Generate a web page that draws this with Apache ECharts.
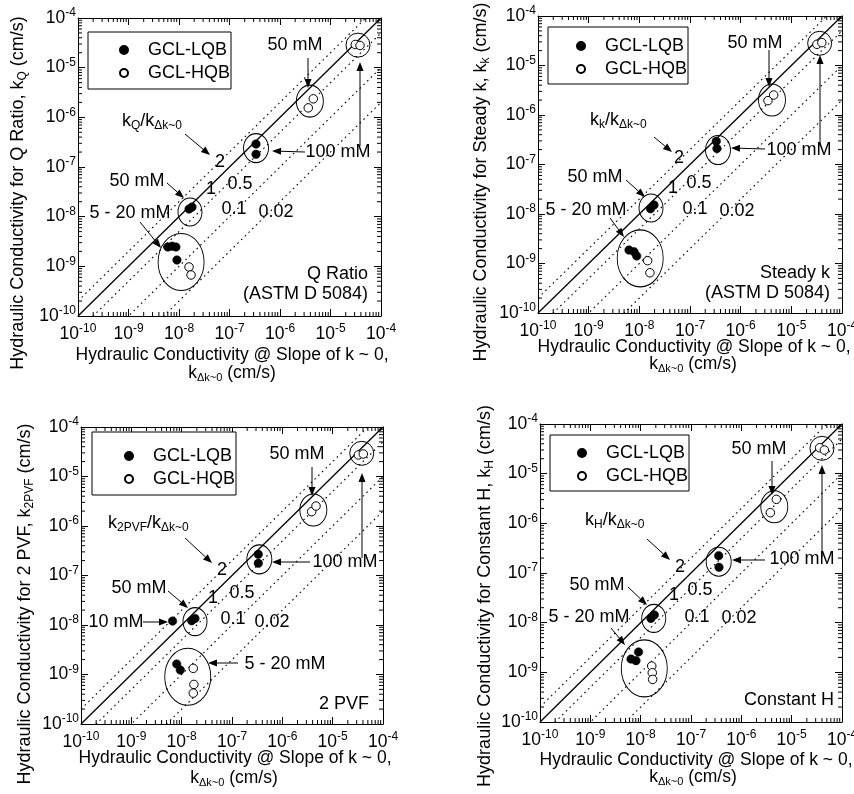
<!DOCTYPE html>
<html><head><meta charset="utf-8">
<script src="https://cdn.jsdelivr.net/npm/echarts@6/dist/echarts.min.js"></script>
<style>html,body{margin:0;padding:0;background:#fff}#c{width:854px;height:794px}</style>
</head><body><div id="c"></div>
<script>
// ---------- data (cm/s) ----------
const ratios = [2, 1, 0.5, 0.1, 0.02];
const axisMin = 1e-10, axisMax = 1e-4;

// Panel A: Q Ratio
const qRatioLQB = [[6.0e-9,2.45e-9],[7.3e-9,2.55e-9],[8.7e-9,2.45e-9],[9.1e-9,1.34e-9],[1.58e-8,1.42e-8],[1.81e-8,1.56e-8],[3.35e-7,2.9e-7],[3.35e-7,1.8e-7]];
const qRatioHQB = [[1.58e-8,9.7e-10],[1.73e-8,6.7e-10],[3.63e-6,1.55e-6],[4.57e-6,2.36e-6],[3.1e-5,2.93e-5],[3.84e-5,2.8e-5]];
// Panel B: Steady k
const steadyLQB = [[6.25e-9,1.87e-9],[7.85e-9,1.73e-9],[8.87e-9,1.42e-9],[1.66e-8,1.28e-8],[1.95e-8,1.52e-8],[3.3e-7,2.95e-7],[3.4e-7,2.1e-7]];
const steadyHQB = [[1.46e-8,1.14e-9],[1.62e-8,6.5e-10],[3.46e-6,1.95e-6],[4.48e-6,2.53e-6],[3.2e-5,2.68e-5],[4.0e-5,2.9e-5]];
// Panel C: 2 PVF
const pvfLQB = [[6.6e-9,1.2e-8],[7.97e-9,1.63e-9],[9.4e-9,1.23e-9],[1.58e-8,1.22e-8],[1.84e-8,1.36e-8],[3.33e-7,2.68e-7],[3.33e-7,1.76e-7]];
const pvfHQB = [[1.7e-8,1.33e-9],[1.75e-8,6.3e-10],[1.7e-8,4.2e-10],[3.83e-6,1.95e-6],[4.67e-6,2.53e-6],[3.24e-5,2.72e-5],[4.06e-5,2.85e-5]];
// Panel D: Constant H
const constHLQB = [[6.43e-9,1.85e-9],[8.08e-9,1.72e-9],[9.06e-9,2.57e-9],[1.6e-8,1.22e-8],[1.87e-8,1.43e-8],[3.55e-7,2.23e-7],[3.6e-7,1.3e-7]];
const constHHQB = [[1.66e-8,1.34e-9],[1.7e-8,9.8e-10],[1.73e-8,7.2e-10],[3.77e-6,1.64e-6],[4.96e-6,3.04e-6],[3.6e-5,3.33e-5],[4.46e-5,2.99e-5]];

// group ring centres (data coords)
const ringCentersA = [[3.5e-5,2.84e-5],[3.9e-6,2.12e-6],[3.35e-7,2.4e-7],[1.65e-8,1.24e-8],[1.1e-8,1.22e-9]];
const ringCentersB = [[3.62e-5,2.81e-5],[4.15e-6,2.01e-6],[3.57e-7,1.96e-7],[1.7e-8,1.32e-8],[1.04e-8,1.27e-9]];
const ringCentersC = [[3.78e-5,2.94e-5],[4.13e-6,2.1e-6],[3.49e-7,2.12e-7],[1.84e-8,1.17e-8],[1.32e-8,9.0e-10]];
const ringCentersD = [[4.0e-5,3.24e-5],[4.52e-6,2.16e-6],[3.55e-7,1.69e-7],[1.82e-8,1.22e-8],[1.18e-8,1.2e-9]];

// ---------- layout / styling ----------
const FONT = '"Liberation Sans", Arial, Helvetica, sans-serif';
const ringSizes = [[24,24],[27,32],[25,29],[24,28],[46,57]];

const panels = [
 {grid:{left:78,top:18,width:303,height:298}, lqb:qRatioLQB, hqb:qRatioHQB, rings:ringCentersA,
  legend:{left:88,top:32,pad:[9,1,7,31]},
  yName:[18,193,'Hydraulic Conductivity for Q Ratio, k{sub|Q} (cm/s)'],
  xName1:[232,355], xName2:[232,373],
  texts:[['50 mM',295,45],['100 mM',338,152],['k{sub|Q}/k{sub|Δk~0}',122,121,'left'],['2',220,162],['1',211,189],['0.5',240,184],['0.1',234,209],['0.02',276,212],['50 mM',137,181],['5 - 20 mM',130,213],['Q Ratio',368,274,'right'],['(ASTM D 5084)',368,294,'right']],
  arrows:[[308,58,308,88],[360,146,360,62],[305,152,272,151],[185,134,210,155],[167,183,184,198],[140,222,161,248]]},
 {grid:{left:538,top:16,width:304,height:297}, lqb:steadyLQB, hqb:steadyHQB, rings:ringCentersB,
  legend:{left:548,top:27,pad:[10,1,6,28]},
  yName:[481,182,'Hydraulic Conductivity for Steady k, k{sub|k} (cm/s)'],
  xName1:[694,347], xName2:[693,364],
  texts:[['50 mM',755,43],['100 mM',799,150],['k{sub|k}/k{sub|Δk~0}',590,120,'left'],['2',679,158],['1',673,188],['0.5',699,183],['0.1',695,209],['0.02',737,211],['50 mM',595,177],['5 - 20 mM',586,210],['Steady k',830,273,'right'],['(ASTM D 5084)',830,293,'right']],
  arrows:[[769,50,769,87],[820,146,820,55],[765,149,731,148],[654,137,672,152],[626,180,645,197],[610,218,624,237]]},
 {grid:{left:81,top:427,width:302,height:297}, lqb:pvfLQB, hqb:pvfHQB, rings:ringCentersC,
  legend:{left:92,top:432,pad:[15,1,7,32]},
  yName:[25,604,'Hydraulic Conductivity for 2 PVF, k{sub|2PVF} (cm/s)'],
  xName1:[235,758], xName2:[234,778],
  texts:[['50 mM',297,454],['100 mM',345,562],['k{sub|2PVF}/k{sub|Δk~0}',108,523,'left'],['2',222,570],['1',213,598],['0.5',242,593],['0.1',233,619],['0.02',272,622],['50 mM',139,588],['10 mM',116,622],['5 - 20 mM',285,664],['2 PVF',369,704,'right']],
  arrows:[[312,467,312,496],[362,558,362,473],[310,562,272,562],[185,538,212,563],[168,591,188,608],[143,622,168,622],[238,663,208,663]]},
 {grid:{left:540,top:424,width:302,height:298}, lqb:constHLQB, hqb:constHHQB, rings:ringCentersD,
  legend:{left:550,top:435,pad:[9,1,6,27]},
  yName:[485,596,'Hydraulic Conductivity for Constant H, k{sub|H} (cm/s)'],
  xName1:[696,760], xName2:[693,777],
  texts:[['50 mM',759,449],['100 mM',802,559],['k{sub|H}/k{sub|Δk~0}',585,520,'left'],['2',680,567],['1',674,595],['0.5',700,590],['0.1',697,617],['0.02',739,618],['50 mM',597,585],['5 - 20 mM',589,617],['Constant H',834,700,'right']],
  arrows:[[772,461,772,495],[822,557,822,465],[765,560,732,560],[647,539,670,560],[628,587,647,605],[611,628,625,645]]}
];

const minorTickVals = [];
for (let e = -10; e < -4; e++) for (let m = 2; m <= 9; m++) minorTickVals.push(m * Math.pow(10, e));

const labelRich = {
  b:{fontSize:17.5, fontFamily:FONT, color:'#000'},
  s:{fontSize:12, fontFamily:FONT, color:'#000', padding:[0,0,10,0]}
};
function expFmt(v){ return '{b|10}{s|' + Math.round(Math.log10(v)) + '}'; }

function makeAxis(i, pos, isX){
  const shown = (pos === 'bottom' || pos === 'left');
  return {type:'log', logBase:10, min:axisMin, max:axisMax, gridIndex:i, position:pos, splitNumber:6,
    axisLine:{show:true, onZero:false, lineStyle:{color:'#000', width:1}},
    axisTick:{show:true, inside:true, length:7, lineStyle:{color:'#000', width:1}},
    axisLabel:{show:shown, margin: isX ? 7 : 2, fontSize:17.5, fontFamily:FONT, color:'#000', formatter:expFmt, rich:labelRich, hideOverlap:false},
    splitLine:{show:false}, minorTick:{show:false}, minorSplitLine:{show:false}};
}

function txt(x, y, text, align, size, rot){
  const fs = size || 18;
  return {type:'text', x:x, y:y, rotation: rot || 0, silent:true, z:100,
    style:{text:text, fontSize:fs, fontFamily:FONT, fill:'#000',
      align:align||'center', textAlign:align||'center', verticalAlign:'middle', textVerticalAlign:'middle',
      rich:{sub:{fontSize:Math.round(fs*0.65), fontFamily:FONT, fill:'#000', padding:[10,0,0,0]}}}};
}
function arrow(x1,y1,x2,y2){
  const dx=x2-x1, dy=y2-y1, L=Math.hypot(dx,dy), ux=dx/L, uy=dy/L;
  const hl=9, hw=3.5, bx=x2-ux*hl, by=y2-uy*hl;
  return [
    {type:'line', silent:true, z:100, shape:{x1:x1,y1:y1,x2:bx,y2:by}, style:{stroke:'#000', lineWidth:1}},
    {type:'polygon', silent:true, z:100, shape:{points:[[x2,y2],[bx-uy*hw,by+ux*hw],[bx+uy*hw,by-ux*hw]]}, style:{fill:'#000'}}
  ];
}

const grids=[], xAxes=[], yAxes=[], series=[], legends=[], graphics=[];
panels.forEach((p, i) => {
  grids.push(Object.assign({containLabel:false, outerBoundsMode:'none'}, p.grid));
  xAxes.push(makeAxis(i,'bottom',true), makeAxis(i,'top',true));
  yAxes.push(makeAxis(i,'left',false), makeAxis(i,'right',false));
  const xi = 2*i, yi = 2*i;
  ratios.forEach(r => {
    series.push({type:'line', xAxisIndex:xi, yAxisIndex:yi, silent:true, symbol:'none', clip:true, z:1,
      data:[[axisMin, r*axisMin],[axisMax, r*axisMax]],
      lineStyle:{color:'#000', width: r===1 ? 1.3 : 1.1, type: r===1 ? 'solid' : [1.6,3.6]}});
  });
  series.push({type:'custom', xAxisIndex:xi, yAxisIndex:yi, silent:true, z:2,
    data: minorTickVals.map(v => [v, v]),
    renderItem: function(params, api){
      const v = api.value(0);
      const b = api.coord([v, axisMin]), t = api.coord([v, axisMax]);
      const l = api.coord([axisMin, v]), r = api.coord([axisMax, v]);
      const L = 4, st = {stroke:'#000', lineWidth:1};
      return {type:'group', children:[
        {type:'line', shape:{x1:b[0],y1:b[1],x2:b[0],y2:b[1]-L}, style:st},
        {type:'line', shape:{x1:t[0],y1:t[1],x2:t[0],y2:t[1]+L}, style:st},
        {type:'line', shape:{x1:l[0],y1:l[1],x2:l[0]+L,y2:l[1]}, style:st},
        {type:'line', shape:{x1:r[0],y1:r[1],x2:r[0]-L,y2:r[1]}, style:st}]};
    }});
  series.push({type:'scatter', name:'rings', xAxisIndex:xi, yAxisIndex:yi, silent:true, z:3,
    data: p.rings.map((c, k) => ({value:c, symbolSize:ringSizes[k]})),
    itemStyle:{color:'rgba(0,0,0,0)', borderColor:'#000', borderWidth:1, opacity:1}});
  series.push({type:'scatter', name:'GCL-LQB', xAxisIndex:xi, yAxisIndex:yi, z:5, symbol:'circle', symbolSize:8.5,
    data:p.lqb, itemStyle:{color:'#000', borderColor:'#000', borderWidth:0.5, opacity:1}, emphasis:{disabled:true}});
  series.push({type:'scatter', name:'GCL-HQB', xAxisIndex:xi, yAxisIndex:yi, z:5, symbol:'circle', symbolSize:8.5,
    data:p.hqb, itemStyle:{color:'#fff', borderColor:'#000', borderWidth:1, opacity:1}, emphasis:{disabled:true}});
  legends.push({left:p.legend.left, top:p.legend.top, orient:'vertical', data:['GCL-LQB','GCL-HQB'],
    icon:'circle', itemWidth:8, itemHeight:8, itemGap:5, padding:p.legend.pad, borderColor:'#000', borderWidth:1,
    backgroundColor:'#fff', selectedMode:false,
    textStyle:{fontSize:18, fontFamily:FONT, color:'#000', padding:[0,0,0,15]}});
  graphics.push(txt(p.yName[0], p.yName[1], p.yName[2], 'center', 18, Math.PI/2));
  graphics.push(txt(p.xName1[0], p.xName1[1], 'Hydraulic Conductivity @ Slope of k ~ 0,', 'center', 17.5));
  graphics.push(txt(p.xName2[0], p.xName2[1], 'k{sub|Δk~0} (cm/s)', 'center', 17.5));
  p.texts.forEach(t => graphics.push(txt(t[1], t[2], t[0], t[3])));
  p.arrows.forEach(a => arrow(a[0],a[1],a[2],a[3]).forEach(e => graphics.push(e)));
});

const chart = echarts.init(document.getElementById('c'), null, {renderer:'canvas'});
chart.setOption({
  backgroundColor:'#fff', animation:false,
  grid:grids, xAxis:xAxes, yAxis:yAxes, legend:legends, series:series,
  graphic:{elements:graphics}
});
</script></body></html>
